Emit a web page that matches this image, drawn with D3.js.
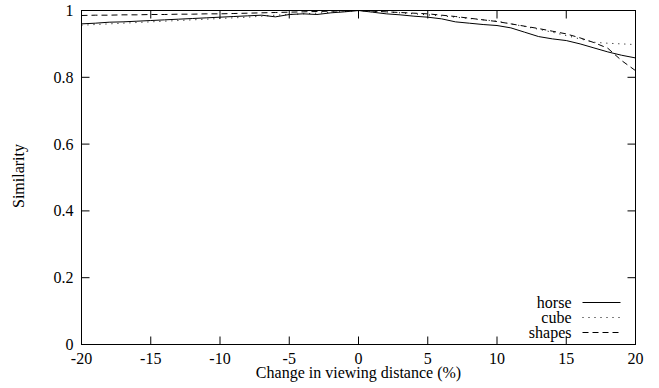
<!DOCTYPE html>
<html>
<head>
<meta charset="utf-8">
<script src="https://cdn.jsdelivr.net/npm/d3@7"></script>
<style>
body{margin:0;background:#fff;}
</style>
</head>
<body>
<script>
// viewing distance change, one value per percent
var xs = d3.range(-20, 21);
var horse = [0.960,0.962,0.965,0.966,0.968,0.970,0.972,0.974,0.976,0.978,0.980,0.982,0.984,0.986,0.981,0.988,0.990,0.988,0.993,0.996,1.000,
             0.995,0.990,0.987,0.983,0.980,0.975,0.966,0.962,0.958,0.955,0.948,0.935,0.922,0.915,0.910,0.900,0.888,0.876,0.866,0.858];
var cube = [0.956,0.958,0.960,0.962,0.964,0.966,0.968,0.970,0.972,0.974,0.976,0.978,0.980,0.983,0.986,0.988,0.990,0.992,0.995,0.997,1.000,
            0.998,0.996,0.993,0.990,0.987,0.984,0.980,0.976,0.972,0.968,0.960,0.952,0.944,0.935,0.925,0.915,0.905,0.902,0.900,0.898];
var shapes = [0.985,0.986,0.986,0.987,0.987,0.988,0.988,0.989,0.989,0.990,0.990,0.991,0.992,0.993,0.994,0.995,0.996,0.997,0.998,0.999,1.000,
              0.998,0.996,0.994,0.992,0.990,0.986,0.982,0.977,0.972,0.967,0.960,0.953,0.946,0.938,0.930,0.918,0.904,0.887,0.850,0.820];
var xTicks = [-20,-15,-10,-5,0,5,10,15,20];
var yTicks = [0,0.2,0.4,0.6,0.8,1];

var series = [
  {name:"horse", values:horse, dash:null},
  {name:"cube", values:cube, dash:"1,5"},
  {name:"shapes", values:shapes, dash:"6,4"}
];

var width = 659, height = 388;
var margin = {left:81.5, right:23.5, top:10.5, bottom:43.5};
var w = width - margin.left - margin.right;
var h = height - margin.top - margin.bottom;

var x = d3.scaleLinear().domain([-20,20]).range([0,w]);
var y = d3.scaleLinear().domain([0,1]).range([h,0]);

var svg = d3.select("body").append("svg").attr("width",width).attr("height",height);
var g = svg.append("g").attr("transform","translate("+margin.left+","+margin.top+")");

// frame
g.append("rect").attr("width",w).attr("height",h).attr("fill","none").attr("stroke","#000").attr("stroke-width",1);

// inward ticks on all four sides
var tl = 8;
g.selectAll(".xt").data(xTicks).enter().append("path")
  .attr("d",function(d){ return "M"+x(d)+","+h+"v"+(-tl)+"M"+x(d)+",0v"+tl; })
  .attr("stroke","#000");
g.selectAll(".yt").data(yTicks).enter().append("path")
  .attr("d",function(d){ return "M0,"+y(d)+"h"+tl+"M"+w+","+y(d)+"h"+(-tl); })
  .attr("stroke","#000");

g.selectAll(".xl").data(xTicks).enter().append("text")
  .attr("x",function(d){ return x(d); }).attr("y",h+19.5)
  .attr("text-anchor","middle").text(function(d){ return d; });
g.selectAll(".yl").data(yTicks).enter().append("text")
  .attr("x",-8).attr("y",function(d){ return y(d)+5.5; })
  .attr("text-anchor","end").text(function(d){ return d; });

g.append("text").attr("x",w/2).attr("y",h+33).attr("text-anchor","middle").text("Change in viewing distance (%)");
svg.append("text").attr("transform","translate(24,176) rotate(-90)")
  .attr("text-anchor","middle").text("Similarity");

var line = d3.line().x(function(d,i){ return x(xs[i]); }).y(function(d){ return y(d); });

g.selectAll(".series").data(series).enter().append("path")
  .attr("d",function(s){ return line(s.values); })
  .attr("fill","none").attr("stroke","#000").attr("stroke-width",1)
  .attr("stroke-dasharray",function(s){ return s.dash; });

// legend bottom right
var leg = g.selectAll(".leg").data(series).enter().append("g")
  .attr("transform",function(s,i){ return "translate(0,"+(292+i*15)+")"; });
leg.append("text").attr("x",490).attr("y",5).attr("text-anchor","end").text(function(s){ return s.name; });
leg.append("path").attr("d","M501,0H539").attr("stroke","#000")
  .attr("stroke-dasharray",function(s){ return s.dash; });

svg.selectAll("text").style("font-family","'Liberation Serif'").style("font-size","16px").attr("fill","#000");
</script>
</body>
</html>
